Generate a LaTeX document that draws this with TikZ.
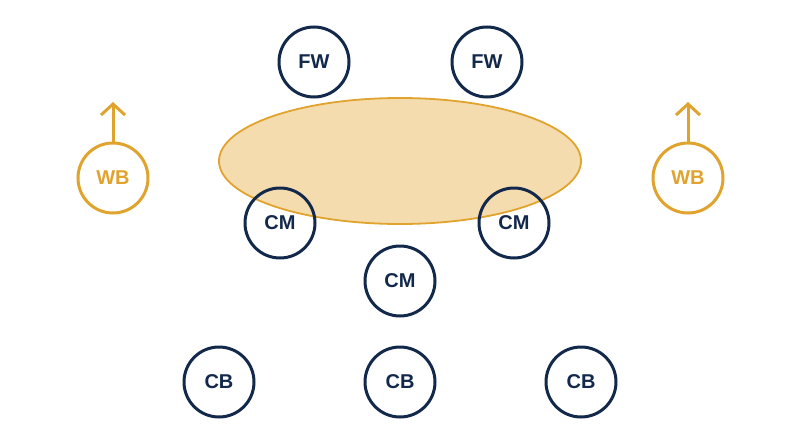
\documentclass[tikz,border=0pt]{standalone}
\usepackage{fontspec}
\setmainfont{Liberation Sans}
\usetikzlibrary{arrows.meta,shapes.geometric}
\definecolor{navy}{HTML}{13294B}
\definecolor{gold}{HTML}{E0A32E}
\definecolor{goldfill}{HTML}{F5DCAE}
\begin{document}
\begin{tikzpicture}[x=1pt,y=-1pt,
  player/.style={circle,draw=navy,line width=3pt,minimum size=70pt,inner sep=0pt,
    font=\fontsize{20}{20}\selectfont\bfseries,text=navy},
  wing/.style={player,draw=gold,text=gold},
  run/.style={draw=gold,line width=3pt,-{Straight Barb[length=11pt,width=24pt,line width=3pt]}}]
\useasboundingbox (0,0) rectangle (800,447);
\fill[white] (0,0) rectangle (800,447);
\node[ellipse,draw=gold,fill=goldfill,line width=1.8pt,minimum width=362pt,minimum height=126pt,inner sep=0pt] (zone) at (400,161) {};
\node[player] (fw1) at (314,62) {FW};
\node[player] (fw2) at (487,62) {FW};
\node[wing] (wb1) at (113,178) {WB};
\node[wing] (wb2) at (688,178) {WB};
\node[player] (cm1) at (280,223) {CM};
\node[player] (cm2) at (514,223) {CM};
\node[player] (cm3) at (400,281) {CM};
\node[player] (cb1) at (219,382) {CB};
\node[player] (cb2) at (400,382) {CB};
\node[player] (cb3) at (581,382) {CB};
\coordinate (a1) at (113,102);
\coordinate (a2) at (688,102);
\draw[run] (wb1.north) -- (a1);
\draw[run] (wb2.north) -- (a2);
\end{tikzpicture}
\end{document}
